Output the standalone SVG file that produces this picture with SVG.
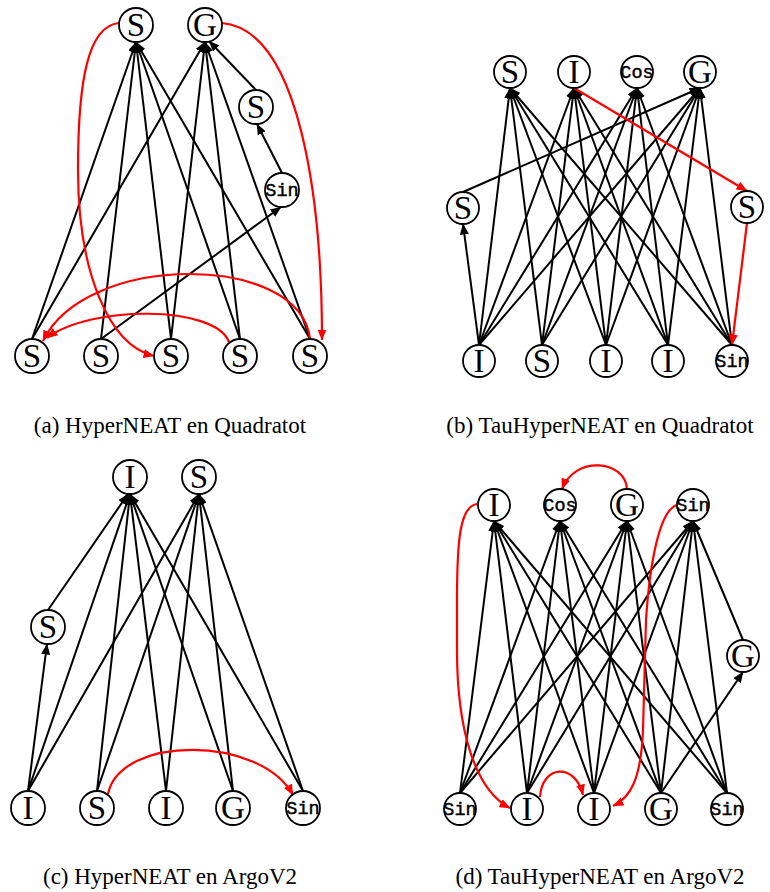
<svg xmlns="http://www.w3.org/2000/svg" width="770" height="892" viewBox="0 0 770 892">
<style>
.bg{fill:#fff}
.nd circle{fill:#fff;stroke:#000;stroke-width:1.8}
.t{font-family:"Liberation Serif","Times New Roman",serif;font-size:33px;text-anchor:middle;fill:#000}
.m{font-family:"Liberation Mono","Courier New",monospace;font-size:18.5px;text-anchor:middle;fill:#000;stroke:#000;stroke-width:0.45}
.cap{font-family:"Liberation Serif","Times New Roman",serif;font-size:23px;text-anchor:middle;fill:#000}
.k{stroke:#000;stroke-width:2;fill:none;marker-end:url(#ab)}
.r{stroke:#f00;stroke-width:2.2;fill:none;marker-end:url(#ar)}
</style>
<defs>
<marker id="ab" markerWidth="11" markerHeight="9" refX="10.5" refY="4.5" orient="auto" markerUnits="userSpaceOnUse"><path d="M0,0 L11,4.5 L0,9 z" fill="#000"/></marker>
<marker id="ar" markerWidth="11" markerHeight="9" refX="10.5" refY="4.5" orient="auto" markerUnits="userSpaceOnUse"><path d="M0,0 L11,4.5 L0,9 z" fill="#f00"/></marker>
</defs>
<rect class="bg" x="0" y="0" width="770" height="892"/>
<g id="connectors">
<!-- panel a -->
<path class="k" d="M32,339 L136,42"/>
<path class="k" d="M32,339 L205,42"/>
<path class="k" d="M101,339 L136,42"/>
<path class="k" d="M171,339 L136,42"/>
<path class="k" d="M171,339 L205,42"/>
<path class="k" d="M240,339 L136,42"/>
<path class="k" d="M240,339 L205,42"/>
<path class="k" d="M310,339 L136,42"/>
<path class="k" d="M310,339 L205,42"/>
<path class="k" d="M101,339 L281,207"/>
<path class="k" d="M282,173 L257,124"/>
<path class="k" d="M256,90 L209,41"/>
<path class="r" d="M119,23 C88,26 78,80 78,170 C78,270 108,345 154,356"/>
<path class="r" d="M222,23 C300,30 322,200 322,340"/>
<path class="r" d="M310,339 C300,252 85,252 43,341"/>
<path class="r" d="M229,342 C215,305 90,305 47,338"/>
<!-- panel b -->
<path class="k" d="M479,345 L510,88"/><path class="k" d="M479,345 L574,88"/><path class="k" d="M479,345 L637,88"/><path class="k" d="M479,345 L700,88"/>
<path class="k" d="M542,345 L510,88"/><path class="k" d="M542,345 L574,88"/><path class="k" d="M542,345 L637,88"/><path class="k" d="M542,345 L700,88"/>
<path class="k" d="M606,345 L510,88"/><path class="k" d="M606,345 L574,88"/><path class="k" d="M606,345 L637,88"/><path class="k" d="M606,345 L700,88"/>
<path class="k" d="M668,345 L510,88"/><path class="k" d="M668,345 L574,88"/><path class="k" d="M668,345 L637,88"/><path class="k" d="M668,345 L700,88"/>
<path class="k" d="M732,345 L510,88"/><path class="k" d="M732,345 L574,88"/><path class="k" d="M732,345 L637,88"/><path class="k" d="M732,345 L700,88"/>
<path class="k" d="M479,345 L463,224"/>
<path class="k" d="M463,192 L700,88"/>
<path class="r" d="M574,88 L747,191"/>
<path class="r" d="M747,223 L732,345"/>
<!-- panel c -->
<path class="k" d="M28,791 L130,494"/><path class="k" d="M28,791 L199,494"/>
<path class="k" d="M97,791 L130,494"/><path class="k" d="M97,791 L199,494"/>
<path class="k" d="M166,791 L130,494"/><path class="k" d="M166,791 L199,494"/>
<path class="k" d="M233,791 L130,494"/><path class="k" d="M233,791 L199,494"/>
<path class="k" d="M303,791 L130,494"/><path class="k" d="M303,791 L199,494"/>
<path class="k" d="M28,791 L47,644"/>
<path class="k" d="M48,610 L128,494"/>
<path class="r" d="M108,794 C120,735 260,735 293,795"/>
<!-- panel d -->
<path class="k" d="M460,793 L494,521"/><path class="k" d="M460,793 L560,521"/><path class="k" d="M460,793 L627,521"/><path class="k" d="M460,793 L693,521"/>
<path class="k" d="M527,793 L494,521"/><path class="k" d="M527,793 L560,521"/><path class="k" d="M527,793 L627,521"/><path class="k" d="M527,793 L693,521"/>
<path class="k" d="M594,793 L494,521"/><path class="k" d="M594,793 L560,521"/><path class="k" d="M594,793 L627,521"/><path class="k" d="M594,793 L693,521"/>
<path class="k" d="M661,793 L494,521"/><path class="k" d="M661,793 L560,521"/><path class="k" d="M661,793 L627,521"/><path class="k" d="M661,793 L693,521"/>
<path class="k" d="M727,793 L494,521"/><path class="k" d="M727,793 L560,521"/><path class="k" d="M727,793 L627,521"/><path class="k" d="M727,793 L693,521"/>
<path class="k" d="M661,793 L743,672"/>
<path class="k" d="M743,640 L693,521"/>
<path class="r" d="M627,489 C625,460 575,455 562,489"/>
<path class="r" d="M477,504 C460,506 457,540 457,600 L457,650 C457,730 475,790 510,808"/>
<path class="r" d="M677,505 C660,510 650,560 646,620 L643,730 C641,780 630,798 613,806"/>
<path class="r" d="M540,797 C542,765 575,762 583,795"/>
</g>
<!-- panel a nodes -->
<g id="a_S" class="nd"><circle cx="136" cy="25" r="17"/><text class="t" x="136" y="36">S</text></g>
<g id="a_G" class="nd"><circle cx="205" cy="25" r="17"/><text class="t" x="205" y="36">G</text></g>
<g id="a_Sm" class="nd"><circle cx="256" cy="107" r="17"/><text class="t" x="256" y="118">S</text></g>
<g id="a_Sin" class="nd"><circle cx="282" cy="190" r="17"/><text class="m" x="282" y="196">Sin</text></g>
<g id="a_b1" class="nd"><circle cx="32" cy="356" r="17"/><text class="t" x="32" y="367">S</text></g>
<g id="a_b2" class="nd"><circle cx="101" cy="356" r="17"/><text class="t" x="101" y="367">S</text></g>
<g id="a_b3" class="nd"><circle cx="171" cy="356" r="17"/><text class="t" x="171" y="367">S</text></g>
<g id="a_b4" class="nd"><circle cx="240" cy="356" r="17"/><text class="t" x="240" y="367">S</text></g>
<g id="a_b5" class="nd"><circle cx="310" cy="356" r="17"/><text class="t" x="310" y="367">S</text></g>
<!-- panel b nodes -->
<g id="b_S" class="nd"><circle cx="510" cy="72" r="16"/><text class="t" x="510" y="83">S</text></g>
<g id="b_I" class="nd"><circle cx="574" cy="72" r="16"/><text class="t" x="574" y="83">I</text></g>
<g id="b_Cos" class="nd"><circle cx="637" cy="72" r="16"/><text class="m" x="637" y="78">Cos</text></g>
<g id="b_G" class="nd"><circle cx="700" cy="72" r="16"/><text class="t" x="700" y="83">G</text></g>
<g id="b_Sl" class="nd"><circle cx="463" cy="208" r="16"/><text class="t" x="463" y="219">S</text></g>
<g id="b_Sr" class="nd"><circle cx="747" cy="207" r="16"/><text class="t" x="747" y="218">S</text></g>
<g id="b_b1" class="nd"><circle cx="479" cy="361" r="16"/><text class="t" x="479" y="372">I</text></g>
<g id="b_b2" class="nd"><circle cx="542" cy="361" r="16"/><text class="t" x="542" y="372">S</text></g>
<g id="b_b3" class="nd"><circle cx="606" cy="361" r="16"/><text class="t" x="606" y="372">I</text></g>
<g id="b_b4" class="nd"><circle cx="668" cy="361" r="16"/><text class="t" x="668" y="372">I</text></g>
<g id="b_b5" class="nd"><circle cx="732" cy="361" r="16"/><text class="m" x="732" y="367">Sin</text></g>
<!-- panel c nodes -->
<g id="c_I" class="nd"><circle cx="130" cy="477" r="17"/><text class="t" x="130" y="488">I</text></g>
<g id="c_S" class="nd"><circle cx="199" cy="477" r="17"/><text class="t" x="199" y="488">S</text></g>
<g id="c_Sl" class="nd"><circle cx="48" cy="627" r="17"/><text class="t" x="48" y="638">S</text></g>
<g id="c_b1" class="nd"><circle cx="28" cy="808" r="17"/><text class="t" x="28" y="819">I</text></g>
<g id="c_b2" class="nd"><circle cx="97" cy="808" r="17"/><text class="t" x="97" y="819">S</text></g>
<g id="c_b3" class="nd"><circle cx="166" cy="808" r="17"/><text class="t" x="166" y="819">I</text></g>
<g id="c_b4" class="nd"><circle cx="233" cy="808" r="17"/><text class="t" x="233" y="819">G</text></g>
<g id="c_b5" class="nd"><circle cx="303" cy="808" r="17"/><text class="m" x="303" y="814">Sin</text></g>
<!-- panel d nodes -->
<g id="d_I" class="nd"><circle cx="494" cy="505" r="16"/><text class="t" x="494" y="516">I</text></g>
<g id="d_Cos" class="nd"><circle cx="560" cy="505" r="16"/><text class="m" x="560" y="511">Cos</text></g>
<g id="d_G" class="nd"><circle cx="627" cy="505" r="16"/><text class="t" x="627" y="516">G</text></g>
<g id="d_Sin" class="nd"><circle cx="693" cy="505" r="16"/><text class="m" x="693" y="511">Sin</text></g>
<g id="d_Gr" class="nd"><circle cx="743" cy="656" r="16"/><text class="t" x="743" y="667">G</text></g>
<g id="d_b1" class="nd"><circle cx="460" cy="809" r="16"/><text class="m" x="460" y="815">Sin</text></g>
<g id="d_b2" class="nd"><circle cx="527" cy="809" r="16"/><text class="t" x="527" y="820">I</text></g>
<g id="d_b3" class="nd"><circle cx="594" cy="809" r="16"/><text class="t" x="594" y="820">I</text></g>
<g id="d_b4" class="nd"><circle cx="661" cy="809" r="16"/><text class="t" x="661" y="820">G</text></g>
<g id="d_b5" class="nd"><circle cx="727" cy="809" r="16"/><text class="m" x="727" y="815">Sin</text></g>
<!-- captions -->
<text class="cap" x="170" y="433">(a) HyperNEAT en Quadratot</text>
<text class="cap" x="600" y="433">(b) TauHyperNEAT en Quadratot</text>
<text class="cap" x="170" y="884">(c) HyperNEAT en ArgoV2</text>
<text class="cap" x="600" y="884">(d) TauHyperNEAT en ArgoV2</text>
</svg>
